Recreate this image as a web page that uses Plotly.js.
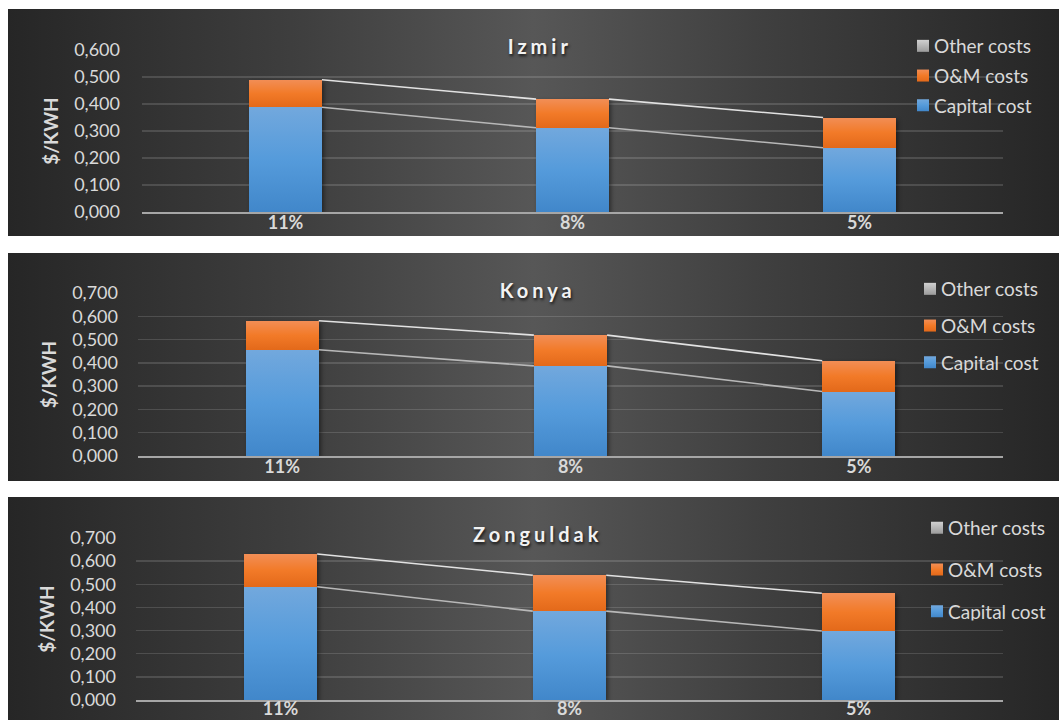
<!DOCTYPE html>
<html>
<head>
<meta charset="utf-8">
<script src="https://cdn.plot.ly/plotly-3.0.1.min.js"></script>
<style>
  html, body { margin:0; padding:0; background:#ffffff; width:1059px; height:720px; overflow:hidden; }
  .panel { position:absolute; left:8px; width:1051px;
           background: linear-gradient(to right, #262626 0%, #3f3f3f 28%, #575757 50%, #3f3f3f 72%, #262626 100%); }
  .panel .plot { position:absolute; left:0; top:0; }
  .gtitle { letter-spacing:4px; }
  .barlayer { filter: drop-shadow(2px 2px 2px rgba(0,0,0,0.45)); }
</style>
</head>
<body>
<svg width="0" height="0" style="position:absolute">
  <defs>
    <linearGradient id="gBlue" x1="0" y1="0" x2="0" y2="1">
      <stop offset="0" stop-color="#72a8dd"/>
      <stop offset="0.5" stop-color="#559bdb"/>
      <stop offset="1" stop-color="#4187ca"/>
    </linearGradient>
    <linearGradient id="gOrange" x1="0" y1="0" x2="0" y2="1">
      <stop offset="0" stop-color="#f28e56"/>
      <stop offset="0.5" stop-color="#f27a28"/>
      <stop offset="1" stop-color="#e3691a"/>
    </linearGradient>
    <linearGradient id="gGray" x1="0" y1="0" x2="0" y2="1">
      <stop offset="0" stop-color="#d0d0d0"/>
      <stop offset="1" stop-color="#9b9b9b"/>
    </linearGradient>
  </defs>
</svg>

<div class="panel" id="p1" style="top:9px;height:227px;"><div class="plot" id="c1"></div></div>
<div class="panel" id="p2" style="top:253px;height:228px;"><div class="plot" id="c2"></div></div>
<div class="panel" id="p3" style="top:497px;height:223px;"><div class="plot" id="c3"></div></div>

<script>
// ---------------- DATA ----------------
const categories = ['11%', '8%', '5%'];
const seriesNames = ['Capital cost', 'O&M costs', 'Other costs'];

const izmirCapital = [0.388, 0.312, 0.238];
const izmirOM      = [0.102, 0.106, 0.112];
const izmirOther   = [0, 0, 0];

const konyaCapital = [0.456, 0.387, 0.277];
const konyaOM      = [0.125, 0.132, 0.132];
const konyaOther   = [0, 0, 0];

const zonguldakCapital = [0.489, 0.384, 0.298];
const zonguldakOM      = [0.142, 0.155, 0.163];
const zonguldakOther   = [0, 0, 0];

const cityNames = ['Izmir', 'Konya', 'Zonguldak'];
const yMaxima   = [0.6, 0.7, 0.7];
const yTickStep = 0.1;

// ---------------- STYLE ----------------
const BAR_W = 0.254;
const FONT = 'Lato, "Open Sans", sans-serif';
const TXT = '#d9d9d9';
const fills = {'Capital cost':'url(#gBlue)', 'O&M costs':'url(#gOrange)', 'Other costs':'url(#gGray)'};
const solid = {'Capital cost':'#5599d8', 'O&M costs':'#ee7a2c', 'Other costs':'#b5b5b5'};
const legendRank = {'Other costs':1, 'O&M costs':2, 'Capital cost':3};

function seriesLine(vals, color) {
  const xs = [], ys = [];
  for (let i = 0; i < vals.length - 1; i++) {
    xs.push(i + BAR_W / 2, i + 1 - BAR_W / 2, null);
    ys.push(vals[i], vals[i + 1], null);
  }
  return {type:'scatter', mode:'lines', x:xs, y:ys, showlegend:false, hoverinfo:'skip',
          line:{color:color, width:1.6}, cliponaxis:false};
}

function applyGradients(gd) {
  gd.querySelectorAll('.barlayer .trace').forEach(g => {
    const d = g.__data__; const nm = d && d[0] && d[0].trace && d[0].trace.name;
    if (fills[nm]) g.querySelectorAll('path').forEach(p => { p.style.fill = fills[nm]; });
  });
  gd.querySelectorAll('.legend .traces').forEach(g => {
    const d = g.__data__; const nm = d && d[0] && d[0].trace && d[0].trace.name;
    if (fills[nm]) g.querySelectorAll('.legendpoints path').forEach(p => { p.style.fill = fills[nm]; });
    g.querySelectorAll('.legendsymbols').forEach(s => {
      const t = s.getAttribute('transform') || '';
      s.setAttribute('transform', (t + ' translate(9,0)').trim());
    });
  });
}

function makePanel(divId, idx, capital, om, other, cfg) {
  const xIdx = categories.map((_, i) => i);
  const stacks = [capital, om, other];
  const bars = seriesNames.map((nm, k) => ({
    type:'bar', name:nm, x:xIdx, y:stacks[k], width:BAR_W,
    marker:{color:solid[nm], line:{width:0}}, legendgroup:nm, legendrank:legendRank[nm], hoverinfo:'y+name'
  }));
  const totals = capital.map((v, i) => v + om[i] + other[i]);
  const traces = [seriesLine(capital, '#b8b8b8'), seriesLine(totals, '#e2e2e2')].concat(bars);

  const H = cfg.H;
  const layout = {
    width:1051, height:H,
    paper_bgcolor:'rgba(0,0,0,0)', plot_bgcolor:'rgba(0,0,0,0)',
    margin:{l:cfg.l, r:56, t:cfg.t, b:cfg.b, pad:0, autoexpand:false},
    barmode:'stack', separators:', ',
    font:{family:FONT, color:TXT, size:18},
    title:{text:cityNames[idx], xref:'container', x:cfg.tx, xanchor:'center',
           yref:'container', y:1 - 38 / H, yanchor:'middle', automargin:false,
           font:{family:FONT, size:20, weight:'bold', color:'#f2f2f2', shadow:'1px 2px 3px rgba(0,0,0,0.75)'}},
    xaxis:{range:[-0.5, categories.length - 0.5], tickmode:'array', tickvals:xIdx, ticktext:categories,
           showgrid:false, zeroline:false, showline:true, linecolor:'#a6a6a6', linewidth:2,
           ticks:'', ticklabelstandoff:cfg.xstand, tickfont:{family:FONT, size:18, weight:'bold', color:TXT},
           fixedrange:true, automargin:false},
    yaxis:{range:[0, yMaxima[idx]], tick0:0, dtick:yTickStep, tickformat:'.3f',
           gridcolor:'rgba(255,255,255,0.14)', gridwidth:1.5, zeroline:false, showline:false,
           ticks:'', ticklabelstandoff:cfg.ystand, tickfont:{family:FONT, size:18, color:TXT},
           title:{text:'$/KWH', font:{family:FONT, size:19, weight:'bold', color:TXT}, standoff:cfg.tstand},
           fixedrange:true, automargin:false},
    showlegend:true,
    legend:{xref:'container', yref:'container', x:cfg.lx, y:cfg.ly, xanchor:'left', yanchor:'top',
            traceorder:'grouped', tracegroupgap:cfg.gap, bgcolor:'rgba(0,0,0,0)',
            font:{family:FONT, size:19, color:TXT}, itemclick:false, itemdoubleclick:false}
  };
  return Plotly.newPlot(divId, traces, layout, {staticPlot:true, displayModeBar:false})
    .then(gd => applyGradients(gd));
}

makePanel('c1', 0, izmirCapital, izmirOM, izmirOther,
  {H:227, l:134, t:41, b:24, tx:0.506, lx:886/1051, ly:1 - 18/227, gap:2, xstand:-7, ystand:21, tstand:10});
makePanel('c2', 1, konyaCapital, konyaOM, konyaOther,
  {H:228, l:130, t:40, b:25, tx:0.504, lx:893/1051, ly:1 - 17/228, gap:9, xstand:-7, ystand:19, tstand:10});
makePanel('c3', 2, zonguldakCapital, zonguldakOM, zonguldakOther,
  {H:223, l:128, t:41, b:20, tx:0.504, lx:900/1051, ly:1 - 12/223, gap:14, xstand:-9, ystand:19, tstand:10});
</script>
</body>
</html>
